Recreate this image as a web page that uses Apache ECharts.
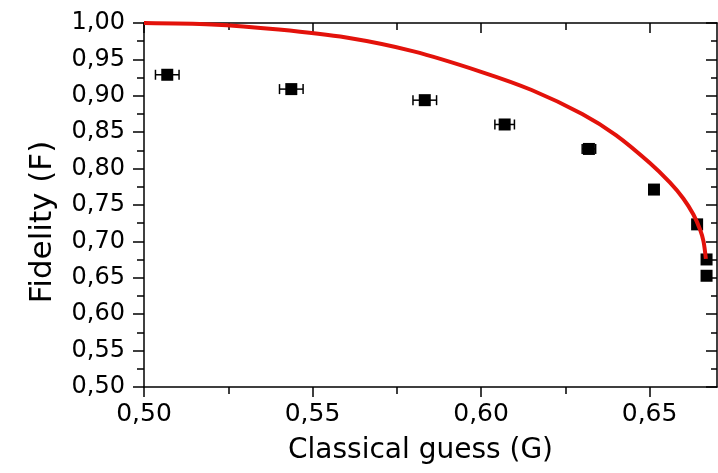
<!DOCTYPE html>
<html>
<head>
<meta charset="utf-8">
<script src="https://cdn.jsdelivr.net/npm/echarts@6/dist/echarts.min.js"></script>
<style>
html,body{margin:0;padding:0;background:#fff;}
#chart{width:718px;height:473px;}
</style>
</head>
<body>
<div id="chart"></div>
<script>
// Measured points: classical guess G, fidelity F, error on G
const guessG    = [0.5069, 0.5437, 0.5833, 0.6070, 0.6320, 0.6513, 0.6641, 0.6669, 0.6669];
const fidelityF = [0.9289, 0.9092, 0.8940, 0.8606, 0.8270, 0.7712, 0.7234, 0.6752, 0.6528];
const errG      = [0.0035, 0.0035, 0.0035, 0.0029, 0.0020, 0.0000, 0.0000, 0.0000, 0.0000];

// Theoretical curve, values
const curveG = [0.500, 0.520, 0.540, 0.560, 0.580, 0.600, 0.615, 0.630, 0.640, 0.650, 0.656, 0.660, 0.663, 0.665, 0.666, 0.6667];
const curveF = [1.000, 0.998, 0.991, 0.980, 0.961, 0.933, 0.908, 0.875, 0.846, 0.808, 0.781, 0.759, 0.737, 0.716, 0.700, 0.676];

// Axis ticks
const xMajorTicks = [0.50, 0.55, 0.60, 0.65];
const xMinorTicks = [0.525, 0.575, 0.625];
const xMin = 0.50, xMax = 0.67;
const yMin = 0.50, yMax = 1.00, yStep = 0.05;

const fmt = v => v.toFixed(2).replace('.', ',');
const FONT = 'DejaVu Sans';
const lineStyle = {color: '#000', width: 1.5};

const chart = echarts.init(document.getElementById('chart'), null, {renderer: 'canvas'});

const pts = guessG.map((g, i) => [g, fidelityF[i]]);
const errPts = guessG.map((g, i) => [g, fidelityF[i], errG[i]]).filter(d => d[2] > 0);
const curve = curveG.map((g, i) => [g, curveF[i]]);

function xAxisDef(pos, major, inside, showLine, withLabel, withName) {
  return {
    type: 'value', position: pos, min: xMin, max: xMax,
    axisLine: {show: showLine, onZero: false, lineStyle: lineStyle},
    axisTick: {show: true, inside: inside, length: major ? 10 : 7, lineStyle: lineStyle,
               customValues: major ? xMajorTicks : xMinorTicks},
    axisLabel: withLabel ? {show: true, customValues: xMajorTicks, formatter: fmt,
               fontFamily: FONT, fontSize: 25, color: '#000', margin: 15} : {show: false},
    splitLine: {show: false},
    name: withName ? 'Classical guess (G)' : '',
    nameLocation: 'middle', nameGap: 50,
    nameTextStyle: {fontFamily: FONT, fontSize: 28, color: '#000', padding: [0, 20, 0, 0]}
  };
}

chart.setOption({
  animation: false,
  backgroundColor: '#fff',
  grid: {left: 144, right: 1, top: 23, bottom: 86, containLabel: false, outerBoundsMode: 'none'},
  xAxis: [
    xAxisDef('bottom', true, false, true, true, true),
    xAxisDef('bottom', false, false, false, false, false),
    xAxisDef('top', true, true, true, false, false),
    xAxisDef('top', false, true, false, false, false)
  ],
  yAxis: [
    {
      type: 'value', position: 'left', min: yMin, max: yMax, interval: yStep,
      axisLine: {show: true, onZero: false, lineStyle: lineStyle},
      axisTick: {show: true, inside: false, length: 11, lineStyle: lineStyle},
      minorTick: {show: true, splitNumber: 2, length: 7, lineStyle: lineStyle},
      axisLabel: {formatter: fmt, fontFamily: FONT, fontSize: 24, color: '#000', margin: 19},
      splitLine: {show: false},
      name: 'Fidelity (F)', nameLocation: 'middle', nameGap: 86, nameRotate: 90,
      nameTextStyle: {fontFamily: FONT, fontSize: 31, color: '#000', padding: [0, 34, 0, 0]}
    },
    {
      type: 'value', position: 'right', min: yMin, max: yMax, interval: yStep,
      axisLine: {show: true, onZero: false, lineStyle: lineStyle},
      axisTick: {show: true, inside: true, length: 11, lineStyle: lineStyle},
      minorTick: {show: true, splitNumber: 2, length: 6, lineStyle: lineStyle},
      axisLabel: {show: false},
      splitLine: {show: false}
    }
  ],
  series: [
    {
      type: 'custom', xAxisIndex: 0, yAxisIndex: 0, z: 2,
      data: errPts,
      renderItem: function (params, api) {
        const g = api.value(0), f = api.value(1), e = api.value(2);
        const a = api.coord([g - e, f]);
        const b = api.coord([g + e, f]);
        const h = 5;
        const st = {stroke: '#000', lineWidth: 1.5};
        return {
          type: 'group',
          children: [
            {type: 'line', shape: {x1: a[0], y1: a[1], x2: b[0], y2: b[1]}, style: st},
            {type: 'line', shape: {x1: a[0], y1: a[1] - h, x2: a[0], y2: a[1] + h}, style: st},
            {type: 'line', shape: {x1: b[0], y1: b[1] - h, x2: b[0], y2: b[1] + h}, style: st}
          ]
        };
      }
    },
    {
      type: 'scatter', xAxisIndex: 0, yAxisIndex: 0, z: 3,
      data: pts, symbol: 'rect', symbolSize: 12,
      itemStyle: {color: '#000', opacity: 1}, clip: false
    },
    {
      type: 'line', xAxisIndex: 0, yAxisIndex: 0, z: 4,
      data: curve, showSymbol: false, smooth: 0.3,
      lineStyle: {color: '#e3120b', width: 4}
    }
  ]
});
</script>
</body>
</html>
